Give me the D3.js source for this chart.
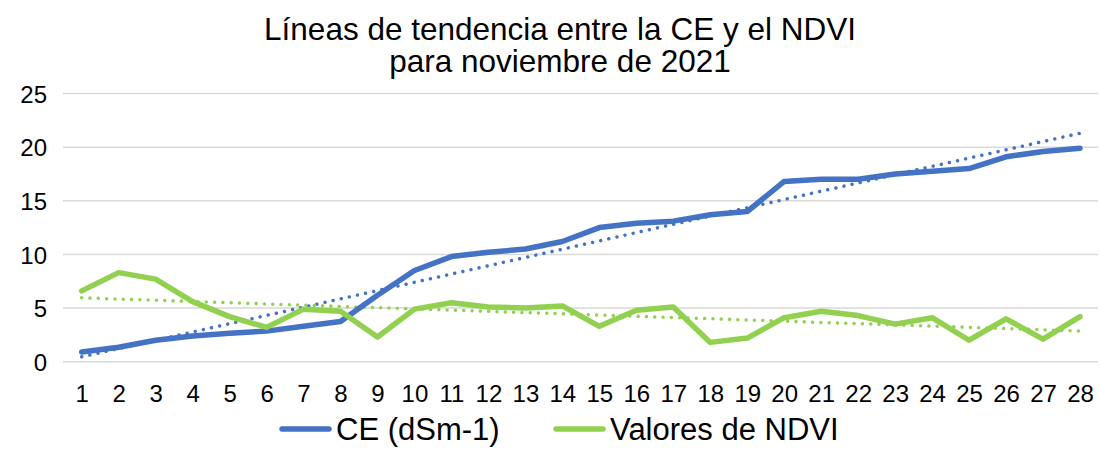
<!DOCTYPE html>
<html>
<head>
<meta charset="utf-8">
<script src="https://cdn.jsdelivr.net/npm/d3@7"></script>
<style>
  body { margin: 0; background: #fff; }
  text { font-family: "Liberation Sans", Arial, sans-serif; fill: #000; }
</style>
</head>
<body>
<div id="chart"></div>
<script>
// days of november 2021
var days = d3.range(1, 29);
var ce = [0.9, 1.35, 2.0, 2.4, 2.65, 2.85, 3.3, 3.75, 6.2, 8.5,
          9.8, 10.2, 10.5, 11.2, 12.5, 12.9, 13.1, 13.7, 14.0, 16.8,
          17.0, 17.0, 17.5, 17.75, 18.0, 19.1, 19.6, 19.9];
var ndvi = [6.6, 8.3, 7.7, 5.6, 4.2, 3.2, 4.9, 4.7, 2.3, 4.9,
            5.5, 5.1, 5.0, 5.2, 3.3, 4.8, 5.1, 1.8, 2.2, 4.1,
            4.7, 4.3, 3.5, 4.1, 2.0, 4.0, 2.1, 4.2];
var yTicks = [0, 5, 10, 15, 20, 25];
var seriesNames = ["CE (dSm-1)", "Valores de NDVI"];
var colors = ["#4472C4", "#92D050"];

var width = 1100,
    height = 449;

var svg = d3.select("#chart").append("svg")
    .attr("width", width)
    .attr("height", height);

var x = d3.scalePoint()
    .domain(days)
    .range([81.7, 1080]);

var y = d3.scaleLinear()
    .domain([0, 25])
    .range([361.7, 93.5]);

// title
var title = svg.append("text")
    .attr("text-anchor", "middle")
    .style("font-size", "31.5px");
title.append("tspan").attr("x", 560).attr("y", 39.5)
    .text("Líneas de tendencia entre la CE y el NDVI");
title.append("tspan").attr("x", 560).attr("y", 72)
    .text("para noviembre de 2021");

// gridlines
svg.append("g")
  .selectAll("line")
    .data(yTicks)
  .enter().append("line")
    .attr("x1", 63).attr("x2", 1098)
    .attr("y1", function(d) { return y(d); })
    .attr("y2", function(d) { return y(d); })
    .attr("stroke", "#d9d9d9")
    .attr("stroke-width", 1.5);

// y axis labels
var yAxis = svg.append("g")
    .attr("transform", "translate(47,0)")
    .call(d3.axisLeft(y).tickValues(yTicks).tickSize(0).tickPadding(0));
yAxis.select(".domain").remove();
yAxis.selectAll("text")
    .style("font-size", "24px")
    .attr("font-family", null)
    .attr("dy", "0.36em");

// x axis labels
var xAxis = svg.append("g")
    .attr("transform", "translate(0,402)")
    .call(d3.axisBottom(x).tickSize(0).tickPadding(0));
xAxis.select(".domain").remove();
xAxis.selectAll("text")
    .style("font-size", "24px")
    .attr("font-family", null)
    .attr("dy", "0");

// linear trend (least squares)
function trend(values) {
  var n = values.length,
      mx = d3.mean(days),
      my = d3.mean(values);
  var sxy = d3.sum(days, function(d, i) { return (d - mx) * (values[i] - my); }),
      sxx = d3.sum(days, function(d) { return (d - mx) * (d - mx); });
  var b = sxy / sxx, a = my - b * mx;
  return [days[0], days[n - 1]].map(function(d) { return [d, a + b * d]; });
}

var line = d3.line()
    .x(function(d) { return x(d[0]); })
    .y(function(d) { return y(d[1]); });

[ce, ndvi].forEach(function(vals, i) {
  svg.append("path")
      .datum(trend(vals))
      .attr("d", line)
      .attr("fill", "none")
      .attr("stroke", colors[i])
      .attr("stroke-width", 3.5)
      .attr("stroke-linecap", "round")
      .attr("stroke-dasharray", "0.01 8.3");
});

[ce, ndvi].forEach(function(vals, i) {
  svg.append("path")
      .datum(days.map(function(d, j) { return [d, vals[j]]; }))
      .attr("d", line)
      .attr("fill", "none")
      .attr("stroke", colors[i])
      .attr("stroke-width", 5.5)
      .attr("stroke-linejoin", "round")
      .attr("stroke-linecap", "round");
});

// legend
var legendX = [282, 556];
var legend = svg.append("g")
  .selectAll("g")
    .data(seriesNames)
  .enter().append("g")
    .attr("transform", function(d, i) { return "translate(" + legendX[i] + ",429)"; });
legend.append("line")
    .attr("x1", 0).attr("x2", 47)
    .attr("stroke", function(d, i) { return colors[i]; })
    .attr("stroke-width", 5.5)
    .attr("stroke-linecap", "round");
legend.append("text")
    .attr("x", 54)
    .attr("dy", "0.35em")
    .style("font-size", "31px")
    .text(function(d) { return d; });
</script>
</body>
</html>
